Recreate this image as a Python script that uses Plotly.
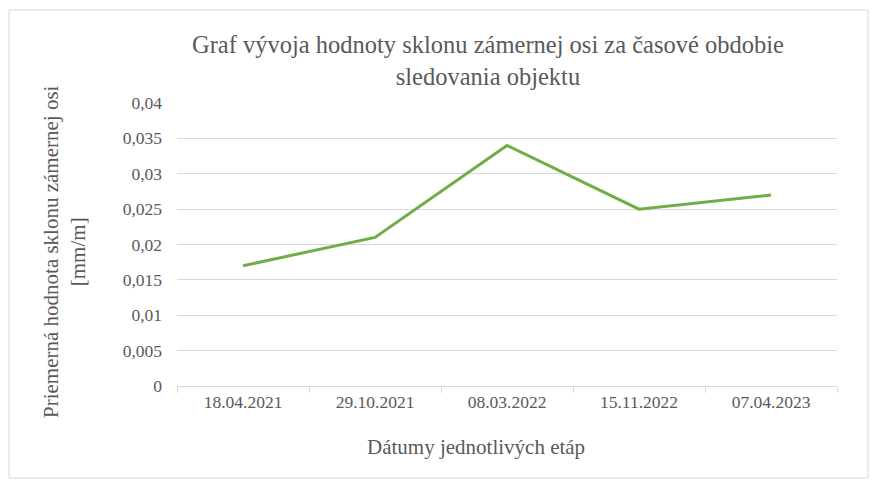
import plotly.graph_objects as go

categories = ["18.04.2021", "29.10.2021", "08.03.2022", "15.11.2022", "07.04.2023"]
values = [0.017, 0.021, 0.034, 0.025, 0.027]
y_ticks = [0, 0.005, 0.01, 0.015, 0.02, 0.025, 0.03, 0.035, 0.04]
y_tick_labels = ["0", "0,005", "0,01", "0,015", "0,02", "0,025", "0,03", "0,035", "0,04"]

title_text = "Graf vývoja hodnoty sklonu zámernej osi za časové obdobie<br>sledovania objektu"
x_title = "Dátumy jednotlivých etáp"
y_title = "Priemerná hodnota sklonu zámernej osi<br>[mm/m]"

FONT = "Liberation Serif, Times New Roman, DejaVu Serif, serif"
GRAY = "#595959"

OFF = 8  # page offset of the figure
W, H = 877 - OFF, 481 - OFF
L, R, T, B = 177 - OFF, 40, 103 - OFF, 95
pw, ph = W - L - R, H - T - B

def px(x):
    return (x - OFF - L) / pw

def py(y):
    return (H - B - (y - OFF)) / ph

fig = go.Figure()
fig.add_trace(go.Scatter(
    x=categories, y=values, mode="lines",
    line=dict(color="#70AD47", width=3),
    showlegend=False, hoverinfo="x+y",
))

fig.update_layout(
    width=W, height=H,
    margin=dict(l=L, r=R, t=T, b=B),
    paper_bgcolor="white", plot_bgcolor="white",
    font=dict(family=FONT, color=GRAY, size=14),
    xaxis=dict(
        type="category", range=[-0.5, 4.5],
        showgrid=False, showline=True, linecolor="#D9D9D9", linewidth=1,
        ticks="outside", tickson="boundaries", ticklen=6, tickcolor="#D9D9D9",
        tickfont=dict(size=17.5, color=GRAY, family=FONT),
        fixedrange=True,
    ),
    yaxis=dict(
        range=[0, 0.04], tickvals=y_ticks, ticktext=y_tick_labels,
        showgrid=True, gridcolor="#D9D9D9", gridwidth=1,
        zeroline=False, showline=False, ticks="", ticklabelstandoff=14,
        tickfont=dict(size=17.5, color=GRAY, family=FONT),
        fixedrange=True,
    ),
    shapes=[dict(
        type="rect", xref="paper", yref="paper",
        x0=px(9), x1=px(868), y0=py(478), y1=py(10),
        line=dict(color="#D9D9D9", width=1), fillcolor="rgba(0,0,0,0)", layer="below",
    )],
    annotations=[
        dict(text=title_text, xref="paper", yref="paper", x=px(488), y=py(60),
             showarrow=False, xanchor="center", yanchor="middle",
             font=dict(size=24.5, color=GRAY, family=FONT)),
        dict(text=x_title, xref="paper", yref="paper", x=px(476), y=py(447),
             showarrow=False, xanchor="center", yanchor="middle",
             font=dict(size=21, color=GRAY, family=FONT)),
        dict(text=y_title, xref="paper", yref="paper", x=px(64), y=py(252),
             showarrow=False, xanchor="center", yanchor="middle", textangle=-90,
             font=dict(size=21, color=GRAY, family=FONT)),
    ],
)

fig.write_html("out.html")
